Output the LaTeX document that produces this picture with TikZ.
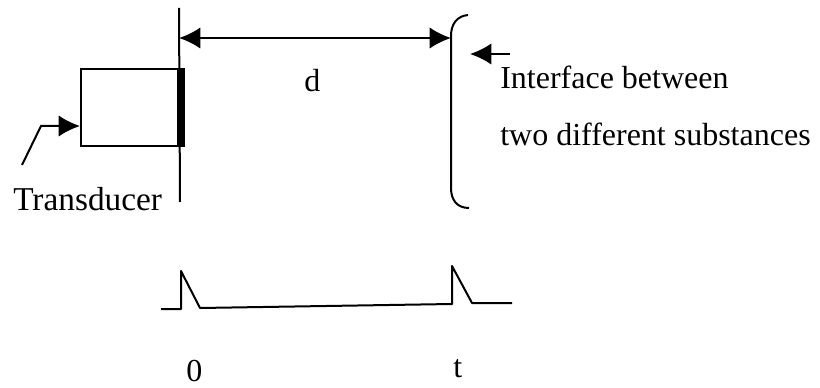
\documentclass[tikz,border=0pt]{standalone}
\usepackage{fontspec}
\setmainfont{Liberation Serif}
\usetikzlibrary{arrows.meta,calc}

\begin{document}
\begin{tikzpicture}[
    x=0.75pt, y=-0.75pt,
    every node/.style={font=\fontsize{24}{28}\selectfont, inner sep=0pt},
    line/.style={line width=1.5pt, black},
    arr/.style={line, -{Latex[length=16pt, width=16pt]}},
    probe/.style={draw, line width=1.5pt, minimum width=74.25pt, minimum height=57.75pt, anchor=north west},
    label/.style={anchor=base west}
]
\useasboundingbox (0,0) rectangle (820,388);

\node[probe] (probe) at (80,68) {};
\node[label, font=\fontsize{25}{28}\selectfont] (trans) at (13,211) {Transducer};
\node[label] (dist) at (304,92) {d};
\node[label] (iface) at (500,89) {Interface between};
\node[label] (subst) at (500,146) {two different substances};
\node[label] (zero) at (186,381) {0};
\node[label] (time) at (453,377) {t};

\coordinate (facetop) at (179,8);
\coordinate (facebot) at (180,202);
\coordinate (spanl) at (179,38);
\coordinate (spanr) at (451,38);
\coordinate (wire0) at (22,165);
\coordinate (wire1) at (41,126);
\coordinate (note) at (510,54);
\coordinate (notetip) at (470,54);

\draw[line] (facetop) -- (facebot);
\draw[line width=5.5pt] (probe.north east) -- (probe.south east);
\draw[line, {Latex[length=16pt, width=16pt]}-{Latex[length=16pt, width=16pt]}] (spanl) -- (spanr);
\draw[arr] (wire0) -- (wire1) -- (wire1 -| probe.west);
\draw[arr] (note) -- (notetip);

% interface
\draw[line] (468,15) .. controls (457,16) and (451,24) .. (451,36) -- (451,188) .. controls (451,200) and (457,208) .. (469,208);

% echoes
\draw[line, line join=round] (161,309) -- (181,309) -- (181,271) -- (200,308) -- (452,304) -- (452,266) -- (472,303) -- (512,303);
\end{tikzpicture}
\end{document}
